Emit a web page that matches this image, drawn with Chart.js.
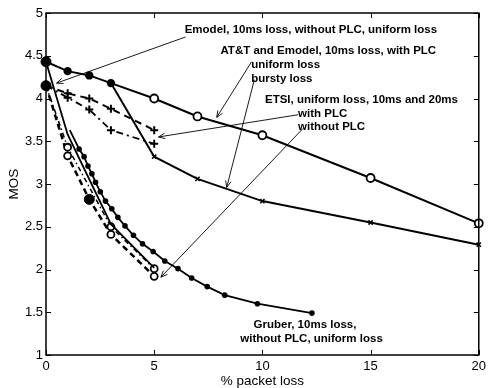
<!DOCTYPE html>
<html>
<head>
<meta charset="utf-8">
<script src="https://cdn.jsdelivr.net/npm/chart.js@4"></script>
<style>
  html, body { margin: 0; padding: 0; background: #fff; }
  #wrap { width: 490px; height: 388px; position: relative; }
</style>
</head>
<body>
<div id="wrap"><canvas id="mosChart"></canvas></div>
<script>
// AT&T and Emodel, 10ms loss, with PLC
const attUniformLoss = [0, 1, 2, 3, 5, 7, 10, 15, 20];
const attUniformMos = [4.43, 4.32, 4.27, 4.18, 4.00, 3.79, 3.57, 3.07, 2.54];
const attBurstyLoss = [3, 5, 7, 10, 15, 20];
const attBurstyMos = [4.18, 3.32, 3.06, 2.80, 2.55, 2.29];

// ETSI with PLC, 10ms / 20ms
const etsiPlcLoss = [0, 1, 2, 3, 5];
const etsiPlc10Mos = [4.15, 4.06, 4.00, 3.88, 3.63];
const etsiPlc20Mos = [4.15, 4.01, 3.87, 3.63, 3.47];

// Emodel without PLC
const emodelLoss = [0, 1, 3, 5];
const emodelMos = [4.43, 3.58, 2.53, 2.02];

// ETSI without PLC, 10ms / 20ms
const etsiNoPlc10Loss = [0, 1, 3, 5];
const etsiNoPlc10Mos = [4.15, 3.43, 2.50, 2.01];
const etsiNoPlc20Loss = [0, 1, 2, 3, 5];
const etsiNoPlc20Mos = [4.15, 3.33, 2.82, 2.41, 1.92];

// big filled markers
const refLoss = [0, 0, 2];
const refMos = [4.43, 4.15, 2.82];

// Gruber, 10ms loss, without PLC
const gruberLoss = [1.1, 1.53, 1.76, 1.94, 2.12, 2.29, 2.51, 2.75, 3.04, 3.32, 3.65, 4.04, 4.46, 4.95, 5.49, 6.1, 6.73, 7.45, 8.26, 9.77, 12.29];
const gruberMos = [3.63, 3.41, 3.32, 3.21, 3.12, 3.02, 2.91, 2.80, 2.71, 2.61, 2.51, 2.40, 2.30, 2.21, 2.10, 2.01, 1.90, 1.80, 1.70, 1.60, 1.49];

const xTicks = [0, 5, 10, 15, 20];
const yTicks = [1, 1.5, 2, 2.5, 3, 3.5, 4, 4.5, 5];

// text notes: [loss, mos, text] (left edge, vertical middle)
const notes = [
  [6.41, 4.80, 'Emodel, 10ms loss, without PLC, uniform loss'],
  [8.06, 4.556, 'AT&T and Emodel, 10ms loss, with PLC'],
  [9.48, 4.39, 'uniform loss'],
  [9.48, 4.23, 'bursty loss'],
  [10.12, 3.98, 'ETSI, uniform loss, 10ms and 20ms'],
  [11.65, 3.82, 'with PLC'],
  [11.65, 3.67, 'without PLC'],
  [9.59, 1.35, 'Gruber, 10ms loss,'],
  [8.98, 1.19, 'without PLC, uniform loss']
];
// arrows: [fromLoss, fromMos, toLoss, toMos]
const arrows = [
  [6.45, 4.72, 0.49, 4.18],
  [9.50, 4.43, 7.89, 3.78],
  [9.63, 4.22, 8.35, 2.96],
  [11.65, 3.81, 5.20, 3.55],
  [11.88, 3.65, 5.31, 1.91]
];

const pts = (xs, ys) => xs.map((x, i) => ({ x: x, y: ys[i] }));
const FONT = '"Liberation Sans", Arial, Helvetica, sans-serif';

const frame = {
  id: 'frame',
  afterDraw(chart) {
    const { ctx, chartArea: a, scales: { x, y } } = chart;
    ctx.save();
    ctx.strokeStyle = '#000';
    ctx.lineWidth = 1.5;
    ctx.strokeRect(a.left, a.top, a.right - a.left, a.bottom - a.top);
    ctx.lineWidth = 1;
    ctx.beginPath();
    xTicks.forEach(v => {
      const px = Math.round(x.getPixelForValue(v)) + 0.5;
      ctx.moveTo(px, a.bottom); ctx.lineTo(px, a.bottom - 5);
      ctx.moveTo(px, a.top); ctx.lineTo(px, a.top + 5);
    });
    yTicks.forEach(v => {
      const py = Math.round(y.getPixelForValue(v)) + 0.5;
      ctx.moveTo(a.left, py); ctx.lineTo(a.left + 5, py);
      ctx.moveTo(a.right, py); ctx.lineTo(a.right - 5, py);
    });
    ctx.stroke();

    // arrows
    ctx.lineWidth = 0.9;
    arrows.forEach(([x0, y0, x1, y1]) => {
      const ax = x.getPixelForValue(x0), ay = y.getPixelForValue(y0);
      const bx = x.getPixelForValue(x1), by = y.getPixelForValue(y1);
      const ang = Math.atan2(by - ay, bx - ax);
      ctx.beginPath();
      ctx.moveTo(ax, ay); ctx.lineTo(bx, by);
      ctx.moveTo(bx - 7 * Math.cos(ang - 0.4), by - 7 * Math.sin(ang - 0.4));
      ctx.lineTo(bx, by);
      ctx.lineTo(bx - 7 * Math.cos(ang + 0.4), by - 7 * Math.sin(ang + 0.4));
      ctx.stroke();
    });

    // notes
    ctx.fillStyle = '#000';
    ctx.font = 'bold 11.5px ' + FONT;
    ctx.textAlign = 'left';
    ctx.textBaseline = 'middle';
    notes.forEach(([lx, ly, t]) => {
      ctx.fillText(t, x.getPixelForValue(lx), y.getPixelForValue(ly));
    });
    ctx.restore();
  }
};

new Chart(document.getElementById('mosChart'), {
  type: 'scatter',
  data: {
    datasets: [
      {
        data: pts(refLoss, refMos),
        showLine: false,
        pointStyle: 'circle', pointRadius: 5,
        pointBackgroundColor: '#000', pointBorderColor: '#000', pointBorderWidth: 1
      },
      {
        data: pts(attUniformLoss, attUniformMos),
        showLine: true, borderColor: '#000', borderWidth: 2,
        pointStyle: 'circle', pointBorderWidth: 1.8,
        pointBorderColor: '#000',
        pointRadius: attUniformLoss.map(v => v <= 3 ? 3.3 : 4),
        pointBackgroundColor: attUniformLoss.map(v => v <= 3 ? '#000' : '#fff')
      },
      {
        data: pts(attBurstyLoss, attBurstyMos),
        showLine: true, borderColor: '#000', borderWidth: 2,
        pointStyle: 'crossRot', pointBorderWidth: 1.5,
        pointBorderColor: '#000',
        pointRadius: attBurstyLoss.map(v => v <= 3 ? 0 : 3)
      },
      {
        data: pts(etsiPlcLoss, etsiPlc10Mos),
        showLine: true, borderColor: '#000', borderWidth: 2, borderDash: [7, 5],
        pointStyle: 'cross', pointBorderWidth: 2, pointBorderColor: '#000',
        pointRadius: etsiPlcLoss.map(v => v === 0 ? 0 : 4)
      },
      {
        data: pts(etsiPlcLoss, etsiPlc20Mos),
        showLine: true, borderColor: '#000', borderWidth: 1.8, borderDash: [7, 4, 2, 4],
        pointStyle: 'cross', pointBorderWidth: 2, pointBorderColor: '#000',
        pointRadius: etsiPlcLoss.map(v => v === 0 ? 0 : 4)
      },
      {
        data: pts(emodelLoss, emodelMos),
        showLine: true, borderColor: '#000', borderWidth: 1.8,
        pointRadius: 0
      },
      {
        data: pts(etsiNoPlc10Loss, etsiNoPlc10Mos),
        showLine: true, borderColor: '#000', borderWidth: 1.5, borderDash: [5, 3, 1.5, 3],
        pointStyle: 'circle', pointBorderWidth: 1.8, pointBorderColor: '#000',
        pointBackgroundColor: '#fff',
        pointRadius: etsiNoPlc10Loss.map(v => v === 0 ? 0 : 3.5)
      },
      {
        data: pts(etsiNoPlc20Loss, etsiNoPlc20Mos),
        showLine: true, borderColor: '#000', borderWidth: 2.5, borderDash: [6, 4],
        pointStyle: 'circle', pointBorderWidth: 1.8, pointBorderColor: '#000',
        pointBackgroundColor: '#fff',
        pointRadius: etsiNoPlc20Loss.map(v => (v === 0 || v === 2) ? 0 : 3.5)
      },
      {
        data: pts(gruberLoss, gruberMos),
        showLine: true, borderColor: '#000', borderWidth: 1.8,
        pointStyle: 'circle', pointBorderWidth: 0,
        pointBackgroundColor: '#000',
        pointRadius: gruberLoss.map((v, i) => i === 0 ? 0 : 2.8)
      }
    ].map(d => Object.assign({ clip: false }, d))
  },
  options: {
    responsive: true,
    maintainAspectRatio: false,
    animation: false,
    events: [],
    layout: { padding: { top: 13, right: 8, left: 0, bottom: 0 } },
    plugins: { legend: { display: false }, tooltip: { enabled: false } },
    scales: {
      x: {
        type: 'linear', min: 0, max: 20,
        afterFit: s => { s.height = 33; },
        afterBuildTicks: s => { s.ticks = xTicks.map(v => ({ value: v })); },
        grid: { display: false, drawTicks: false },
        border: { display: false },
        ticks: {
          color: '#000', padding: 4, maxRotation: 0,
          font: { family: FONT, size: 13 },
          callback: v => String(v)
        },
        title: {
          display: true, text: '% packet loss', color: '#000',
          padding: 0, font: { family: FONT, size: 13.5, lineHeight: 1 }
        }
      },
      y: {
        type: 'linear', min: 1, max: 5,
        afterFit: s => { s.width = 46; },
        afterBuildTicks: s => { s.ticks = yTicks.map(v => ({ value: v })); },
        grid: { display: false, drawTicks: false },
        border: { display: false },
        ticks: {
          color: '#000', padding: 3,
          font: { family: FONT, size: 13 },
          callback: v => String(v)
        },
        title: {
          display: true, text: 'MOS', color: '#000',
          padding: { top: 8, bottom: 0 }, font: { family: FONT, size: 13.5, lineHeight: 1 }
        }
      }
    }
  },
  plugins: [frame]
});
</script>
</body>
</html>
